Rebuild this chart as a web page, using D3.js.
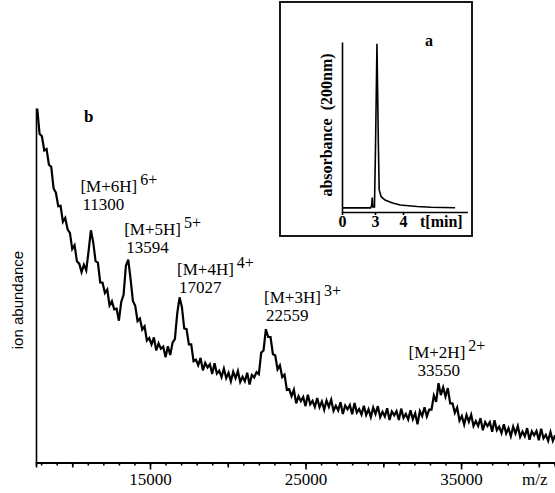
<!doctype html>
<html lang="en">
<head>
    <meta charset="UTF-8">
    <title>ESI mass spectrum with LC inset</title>
    <script type="text/javascript" src="https://d3js.org/d3.v7.min.js"></script>
    <style type="text/css">
        body {
            margin: 0;
            background-color: #fff;
        }

        svg {
            display: block;
            background-color: #fff;
        }

        .axis path, .axis line {
            stroke: #000;
            stroke-width: 1.6;
        }

        .serif {
            font-family: "Liberation Serif", "DejaVu Serif", serif;
            fill: #000;
        }
    </style>
</head>
<body>
<script type="text/javascript">

    // main spectrum (b): abundance sampled every mzStep starting at mzStart
    var mzStart = 7750;
    var mzStep = 150;
    var abundance = [
        99.8, 92.7, 92.0, 88.0, 88.4, 84.0, 83.4, 77.3, 76.1, 72.3,
        72.4, 67.9, 69.0, 65.8, 64.8, 60.2, 61.3, 56.8, 56.1, 53.7,
        55.8, 54.2, 59.6, 65.5, 62.1, 56.8, 56.4, 50.8, 50.7, 47.8,
        48.8, 44.3, 45.5, 43.2, 43.4, 40.0, 45.3, 47.3, 55.5, 57.2,
        51.8, 45.6, 44.2, 39.9, 40.6, 37.5, 38.4, 34.4, 35.1, 33.3,
        35.3, 31.6, 33.6, 32.1, 32.7, 29.7, 32.8, 30.3, 33.8, 34.8,
        42.0, 46.6, 43.9, 37.8, 37.6, 33.3, 33.3, 28.6, 29.0, 27.4,
        29.5, 26.0, 28.1, 26.8, 27.7, 25.0, 28.0, 25.1, 25.9, 24.1,
        26.5, 23.8, 25.3, 22.9, 25.6, 23.8, 25.8, 22.7, 24.2, 22.9,
        25.3, 22.0, 24.7, 24.0, 25.5, 24.9, 31.0, 31.6, 37.6, 35.4,
        35.4, 30.6, 30.2, 26.3, 27.4, 24.1, 24.8, 20.5, 20.7, 18.7,
        20.5, 16.7, 18.7, 17.3, 18.5, 15.9, 19.1, 16.4, 17.4, 15.7,
        18.2, 15.6, 17.2, 14.9, 17.5, 15.7, 17.7, 14.6, 16.0, 14.7,
        17.0, 13.7, 16.1, 15.0, 16.2, 13.6, 16.8, 14.1, 15.1, 13.5,
        16.0, 13.4, 15.0, 12.8, 15.5, 13.7, 15.9, 12.8, 14.3, 13.0,
        15.3, 12.0, 14.4, 13.3, 14.5, 12.0, 15.2, 12.6, 13.7, 12.1,
        14.7, 12.2, 13.9, 10.8, 14.5, 13.1, 15.6, 13.0, 14.9, 14.9,
        18.9, 17.1, 22.4, 19.0, 21.2, 18.6, 21.0, 16.7, 16.7, 14.0,
        15.5, 11.8, 13.1, 10.7, 13.4, 11.5, 13.5, 10.3, 11.7, 10.3,
        12.5, 9.1, 11.4, 10.3, 11.4, 8.7, 11.9, 9.1, 10.1, 8.3,
        10.8, 8.2, 9.7, 7.4, 10.1, 8.2, 10.3, 7.2, 8.7, 7.4,
        9.7, 6.4, 8.8, 7.7, 8.9, 6.3, 9.5, 6.8, 7.8, 6.1,
        8.6, 6.1, 7.7
    ];

    var peakNames = ["[M+6H]", "[M+5H]", "[M+4H]", "[M+3H]", "[M+2H]"];
    var peakCharges = ["6+", "5+", "4+", "3+", "2+"];
    var peakMz = [11300, 13594, 17027, 22559, 33550];

    var mzTicks = [15000, 25000, 35000];

    // inset (a): UV trace
    var uvTime = [0, 2.6, 2.7, 2.75, 2.8, 2.95, 3.02, 3.07, 3.12, 3.15, 3.22, 3.36, 3.6, 3.9, 4.5, 5.0, 5.86];
    var uvAbs = [2.4, 2.4, 4, 8.5, 3, 3, 40, 99, 40, 13, 9, 7, 5.5, 4.1, 3.2, 2.8, 2.5];
    var timeTicks = [0, 3, 4];

    var w = 555;
    var h = 493;

    var svg = d3.select("body")
        .append("svg")
        .attr("width", w)
        .attr("height", h);

    var xScale = d3.scaleLinear().domain([7670, 41040]).range([36, 555]);
    var yScale = d3.scaleLinear().domain([0, 100]).range([462.5, 108]);

    // minor ticks
    svg.append("g")
        .attr("class", "axis")
        .attr("transform", "translate(0,462.5)")
        .call(d3.axisBottom(xScale).tickValues(d3.range(8000, 41001, 1000)).tickSize(3).tickFormat(""));
    svg.append("g")
        .attr("class", "axis")
        .attr("transform", "translate(0,462.5)")
        .call(d3.axisBottom(xScale).tickValues([10000, 20000, 30000, 40000]).tickSize(5).tickFormat(""));

    var xAxis = svg.append("g")
        .attr("class", "axis")
        .attr("transform", "translate(0,462.5)")
        .call(d3.axisBottom(xScale).tickValues(mzTicks).tickSizeInner(7).tickSizeOuter(0).tickPadding(3)
            .tickFormat(d3.format("d")));
    xAxis.selectAll("text")
        .attr("class", "serif")
        .attr("font-size", "17px");

    svg.append("g")
        .attr("class", "axis")
        .attr("transform", "translate(36,0)")
        .call(d3.axisLeft(yScale).tickValues([]).tickSizeOuter(0));

    // spectrum trace
    var line = d3.line()
        .x(function (d, i) {
            return xScale(mzStart + i * mzStep);
        })
        .y(function (d) {
            return yScale(d);
        });

    svg.append("path")
        .datum(abundance)
        .attr("d", line)
        .attr("fill", "none")
        .attr("stroke", "#000")
        .attr("stroke-width", 2.2);

    // axis titles
    svg.append("text")
        .attr("class", "serif")
        .attr("x", 522)
        .attr("y", 485)
        .attr("font-size", "17px")
        .text("m/z");

    svg.append("text")
        .attr("transform", "translate(23,300) rotate(-90)")
        .attr("text-anchor", "middle")
        .attr("font-family", "'Liberation Sans', Arial, sans-serif")
        .attr("font-size", "15px")
        .text("ion abundance");

    svg.append("text")
        .attr("class", "serif")
        .attr("x", 84)
        .attr("y", 122)
        .attr("font-size", "17px")
        .attr("font-weight", "bold")
        .text("b");

    // peak labels
    var labelDx = [-12, -4, -4.5, -3.5, -30];
    var labelY = [192, 235, 275, 303, 358];

    var labels = svg.selectAll(".peak")
        .data(peakMz)
        .enter()
        .append("g")
        .attr("class", "peak");

    var head = labels.append("text")
        .attr("class", "serif")
        .attr("font-size", "17px")
        .attr("x", function (d, i) {
            return xScale(d) + labelDx[i];
        })
        .attr("y", function (d, i) {
            return labelY[i];
        });
    head.append("tspan")
        .text(function (d, i) {
            return peakNames[i];
        });
    head.append("tspan")
        .attr("dx", 3)
        .attr("dy", -7)
        .attr("font-size", "16px")
        .text(function (d, i) {
            return peakCharges[i];
        });

    labels.append("text")
        .attr("class", "serif")
        .attr("font-size", "17px")
        .attr("x", function (d, i) {
            return xScale(d) + labelDx[i] + (i === 4 ? 9 : 2);
        })
        .attr("y", function (d, i) {
            return labelY[i] + 18;
        })
        .text(function (d) {
            return d;
        });

    // inset box
    var inset = svg.append("g");
    inset.append("rect")
        .attr("x", 280)
        .attr("y", 2)
        .attr("width", 192)
        .attr("height", 234)
        .attr("fill", "#fff")
        .attr("stroke", "#000")
        .attr("stroke-width", 1.8);

    var tScale = d3.scaleLinear().domain([0, 3, 6.3]).range([342, 375, 467.4]);
    var aScale = d3.scaleLinear().domain([0, 100]).range([212, 42]);

    var tAxis = inset.append("g")
        .attr("class", "axis")
        .attr("transform", "translate(0,212)")
        .call(d3.axisBottom(tScale).tickValues(timeTicks).tickSizeInner(3).tickSizeOuter(0).tickPadding(1)
            .tickFormat(d3.format("d")));
    tAxis.selectAll("text")
        .attr("class", "serif")
        .attr("font-size", "16px")
        .attr("font-weight", "bold");

    inset.append("g")
        .attr("class", "axis")
        .attr("transform", "translate(342,0)")
        .call(d3.axisLeft(aScale).tickValues([]).tickSizeOuter(0));

    var uvLine = d3.line()
        .x(function (d, i) {
            return tScale(uvTime[i]);
        })
        .y(function (d) {
            return aScale(d);
        });

    inset.append("path")
        .datum(uvAbs)
        .attr("d", uvLine)
        .attr("fill", "none")
        .attr("stroke", "#000")
        .attr("stroke-width", 1.6);

    inset.append("text")
        .attr("class", "serif")
        .attr("x", 420)
        .attr("y", 227)
        .attr("font-size", "16px")
        .attr("font-weight", "bold")
        .text("t[min]");

    inset.append("text")
        .attr("class", "serif")
        .attr("x", 425)
        .attr("y", 46)
        .attr("font-size", "16px")
        .attr("font-weight", "bold")
        .text("a");

    inset.append("text")
        .attr("class", "serif")
        .attr("transform", "translate(332,125) rotate(-90)")
        .attr("text-anchor", "middle")
        .attr("font-size", "16px")
        .attr("font-weight", "bold")
        .attr("xml:space", "preserve")
        .text("absorbance  (200nm)");

</script>
</body>
</html>
